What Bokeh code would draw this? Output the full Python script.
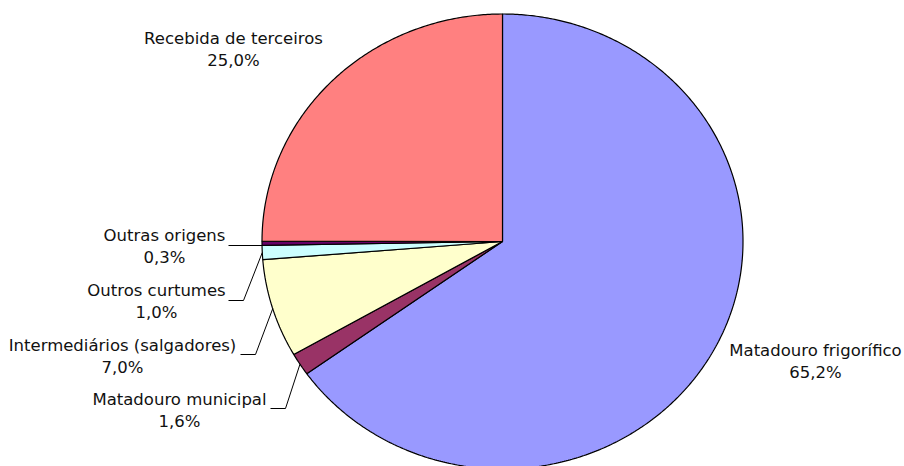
import numpy as np
from bokeh.plotting import figure
from bokeh.models import Range1d, ColumnDataSource
from bokeh.core.properties import value
from bokeh.embed import file_html
from bokeh.resources import INLINE

# ---- data ----
categories = ["Matadouro frigorífico", "Matadouro municipal", "Intermediários (salgadores)",
              "Outros curtumes", "Outras origens", "Recebida de terceiros"]
shares = [65.2, 1.6, 7.0, 1.0, 0.3, 25.0]
colors = ["#9999FF", "#993366", "#FFFFCC", "#CCFFFF", "#660066", "#FF8080"]

# ---- layout (pixel coordinates of the picture) ----
cx, cy, rx, ry = 502.0, 241.0, 240.5, 227.5
label_x = [815, 179, 122, 156, 164, 233]
label_y = [350, 399, 345, 290, 235, 38]
pct_dy = 22
# leader: (text-side x, knee x, line y) ; None for no leader
leaders = [None, (270, 285, 408), (240, 255, 354), (228, 243, 300), (228, None, 245), None]

W, H = 904, 466
p = figure(width=W, height=H, x_range=Range1d(0, W), y_range=Range1d(H, 0),
           output_backend="svg", toolbar_location=None, min_border=0)
p.axis.visible = False
p.grid.visible = False
p.outline_line_color = None
p.background_fill_color = "white"
p.border_fill_color = "white"

vals = np.array(shares, dtype=float)
fr = vals / vals.sum()
ends = np.cumsum(fr)
starts = ends - fr

xs, ys = [], []
for s, e in zip(starts, ends):
    n = max(3, int((e - s) * 720))
    th = np.linspace(s, e, n) * 2 * np.pi
    xs.append([cx] + list(cx + rx * np.sin(th)) + [cx])
    ys.append([cy] + list(cy - ry * np.cos(th)) + [cy])

src = ColumnDataSource(dict(xs=xs, ys=ys, color=colors))
p.patches("xs", "ys", source=src, fill_color="color", line_color="black", line_width=1.2)

# leader lines
for i, ld in enumerate(leaders):
    if ld is None:
        continue
    mid = (starts[i] + ends[i]) / 2 * 2 * np.pi
    ex = cx + rx * np.sin(mid)
    ey = cy - ry * np.cos(mid)
    x0, kx, ky = ld
    if kx is None:
        p.line([x0, ex], [ky, ky], line_color="black", line_width=1)
    else:
        p.line([x0, kx, ex], [ky, ky, ey], line_color="black", line_width=1)

pct = [f"{v:.1f}".replace(".", ",") + "%" for v in shares]
lsrc = ColumnDataSource(dict(x=label_x, y=label_y, y2=[y + pct_dy for y in label_y],
                             name=categories, pct=pct))
common = dict(text_font=value("DejaVu Sans"), text_font_size="16.5px", text_color="#111111",
              text_align="center", text_baseline="middle")
p.text("x", "y", text="name", source=lsrc, **common)
p.text("x", "y2", text="pct", source=lsrc, **common)

open("out.html", "w").write(file_html(p, INLINE))
